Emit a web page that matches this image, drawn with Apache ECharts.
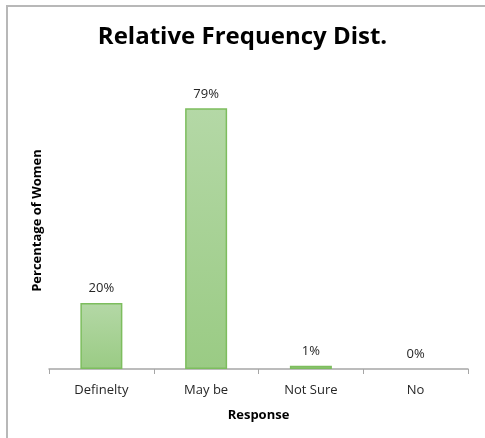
<!DOCTYPE html>
<html>
<head>
<meta charset="utf-8">
<style>
  html, body { margin: 0; padding: 0; background: #fff; }
  #frame { position: absolute; left: 6px; top: 5px; width: 479px; height: 433px;
           border-left: 2px solid #b8b8b8; border-top: 2px solid #b8b8b8; box-sizing: border-box; }
  #chart { position: absolute; left: 0; top: 0; width: 485px; height: 438px; }
</style>
<script src="https://cdn.jsdelivr.net/npm/echarts@6/dist/echarts.min.js"></script>
</head>
<body>
<div id="frame"></div>
<div id="chart"></div>
<script>
// Response categories and their share of women (percent)
const categories = ['Definelty', 'May be', 'Not Sure', 'No'];
const percentages = [20, 79, 1, 0];
const titleText = 'Relative Frequency Dist.';
const xAxisName = 'Response';
const yAxisName = 'Percentage of Women';

const chart = echarts.init(document.getElementById('chart'), null, { renderer: 'canvas' });
const font = 'Open Sans';

// zero-height bars get no outline so nothing shows on the axis
const barData = percentages.map(v => v === 0 ? { value: v, itemStyle: { borderWidth: 0 } } : v);

chart.setOption({
  animation: false,
  title: {
    text: titleText,
    left: 'center',
    top: 20,
    textStyle: { fontFamily: font, fontWeight: 'bold', fontSize: 24, color: '#000' }
  },
  grid: { left: 49, right: 17, top: 72, bottom: 69 },
  xAxis: {
    type: 'category',
    data: categories,
    name: xAxisName,
    nameLocation: 'middle',
    nameGap: 40,
    nameTextStyle: { fontFamily: font, fontWeight: 'bold', fontSize: 13, color: '#000' },
    axisLine: { lineStyle: { color: '#a6a6a6', width: 1.5 } },
    axisTick: { show: true, length: 5, alignWithLabel: false, lineStyle: { color: '#a6a6a6' } },
    axisLabel: { fontFamily: font, fontSize: 13, color: '#262626', margin: 15 }
  },
  yAxis: {
    type: 'value',
    min: 0,
    max: 90,
    name: yAxisName,
    nameLocation: 'middle',
    nameGap: 5,
    nameTextStyle: { fontFamily: font, fontWeight: 'bold', fontSize: 13, color: '#000' },
    axisLine: { show: false },
    axisTick: { show: false },
    axisLabel: { show: false },
    splitLine: { show: false }
  },
  series: [{
    type: 'bar',
    data: barData,
    barWidth: 42,
    itemStyle: {
      color: new echarts.graphic.LinearGradient(0, 0, 0, 1, [
        { offset: 0, color: '#b4d8a6' },
        { offset: 1, color: '#9acb84' }
      ]),
      borderColor: '#7dbd5e',
      borderWidth: 1.5
    },
    label: {
      show: true,
      position: 'top',
      distance: 8,
      formatter: p => p.value + '%',
      fontFamily: font,
      fontSize: 13,
      color: '#262626'
    }
  }]
});
</script>
</body>
</html>
